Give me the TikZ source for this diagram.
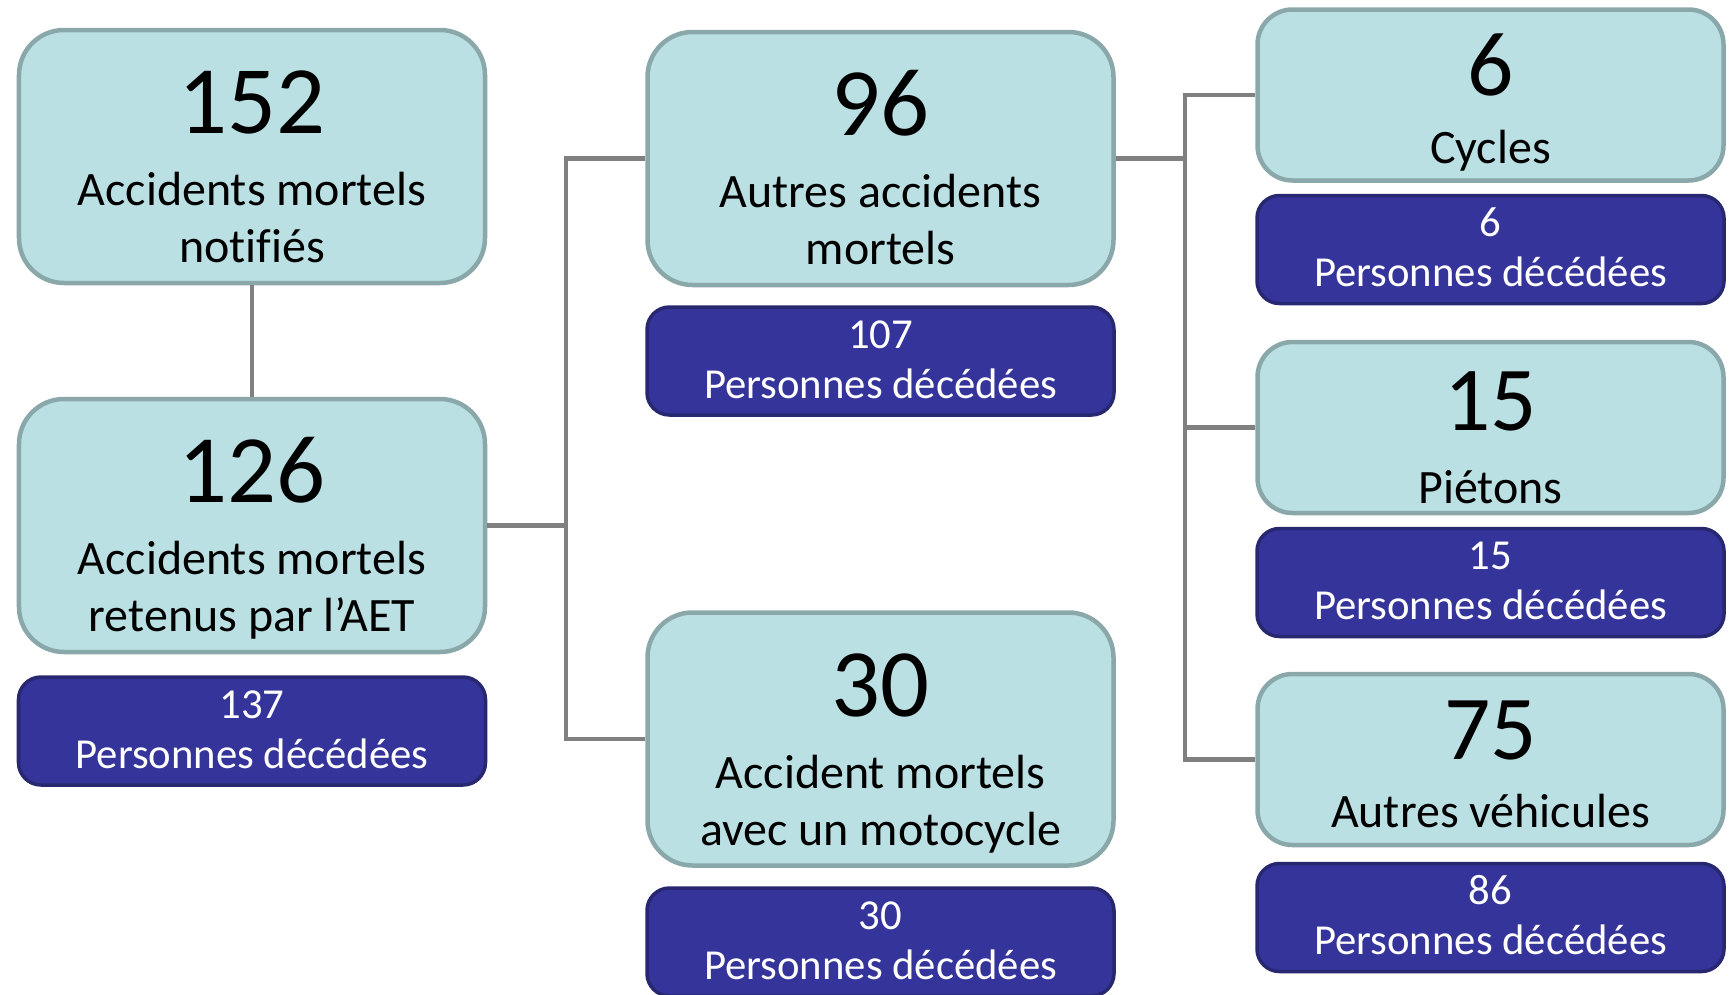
\documentclass[tikz,border=0pt]{standalone}
\usepackage{fontspec}
\setmainfont{Carlito}[Ligatures=NoCommon]
\usetikzlibrary{positioning}
\definecolor{lightbox}{RGB}{186,224,227}
\definecolor{lightedge}{RGB}{138,168,170}
\definecolor{darkbox}{RGB}{53,52,154}
\definecolor{darkedge}{RGB}{39,40,112}
\definecolor{linkgray}{RGB}{128,128,128}
\tikzset{%
  accident/.style={draw=lightedge, fill=lightbox, line width=0.09cm, rounded corners=0.9cm,
    minimum width=9.32cm, minimum height=5.06cm, inner sep=0pt},% light box, 2 lines
  category/.style={accident, rounded corners=0.7cm, minimum height=3.42cm},% light box, 1 line
  victims/.style={draw=darkedge, fill=darkbox, line width=0.07cm, rounded corners=0.45cm,
    minimum width=9.34cm, minimum height=2.16cm, inner sep=0pt},% persons killed
  bignum/.style={anchor=base, inner sep=0pt, font=\fontsize{55}{60}\selectfont},
  midnum/.style={bignum, font=\fontsize{52}{56}\selectfont},
  caption/.style={anchor=base, inner sep=0pt, font=\fontsize{27.3}{32}\selectfont},
  count/.style={anchor=base, inner sep=0pt, text=white, font=\fontsize{24.3}{28}\selectfont},
  branch/.style={draw=linkgray, line width=0.085cm}
}

\begin{document}
\begin{tikzpicture}
\useasboundingbox (0,0) rectangle (34.58,-19.88);

% left column
\node[accident] (b152) at (5.04,-3.13) {};
\node[bignum] (n152) at ([yshift=-2.12cm]b152.north) {152};
\node[caption] (t152a) at ([yshift=-3.56cm]b152.north) {Accidents mortels};
\node[caption] (t152b) at ([yshift=-4.70cm]b152.north) {notifiés};

\node[accident] (b126) at (5.04,-10.51) {};
\node[bignum] (n126) at ([yshift=-2.12cm]b126.north) {126};
\node[caption] (t126a) at ([yshift=-3.56cm]b126.north) {Accidents mortels};
\node[caption] (t126b) at ([yshift=-4.70cm]b126.north) {retenus par l’AET};

\node[victims] (d137) at (5.04,-14.62) {};
\node[count] (n137) at ([yshift=-0.86cm]d137.north) {137};
\node[count] (t137) at ([yshift=-1.86cm]d137.north) {Personnes décédées};

% middle column
\node[accident] (b96) at (17.61,-3.17) {};
\node[bignum] (n96) at ([yshift=-2.12cm]b96.north) {96};
\node[caption] (t96a) at ([yshift=-3.56cm]b96.north) {Autres accidents};
\node[caption] (t96b) at ([yshift=-4.70cm]b96.north) {mortels};

\node[victims] (d107) at (17.61,-7.22) {};
\node[count] (n107) at ([yshift=-0.86cm]d107.north) {107};
\node[count] (t107) at ([yshift=-1.86cm]d107.north) {Personnes décédées};

\node[accident] (b30) at (17.61,-14.78) {};
\node[bignum] (n30) at ([yshift=-2.12cm]b30.north) {30};
\node[caption] (t30a) at ([yshift=-3.56cm]b30.north) {Accident mortels};
\node[caption] (t30b) at ([yshift=-4.70cm]b30.north) {avec un motocycle};

\node[victims] (d30) at (17.61,-18.84) {};
\node[count] (n30d) at ([yshift=-0.86cm]d30.north) {30};
\node[count] (t30d) at ([yshift=-1.86cm]d30.north) {Personnes décédées};

% right column
\node[category] (b6) at (29.81,-1.90) {};
\node[midnum] (n6) at ([yshift=-1.76cm]b6.north) {6};
\node[caption] (t6) at ([yshift=-3.12cm]b6.north) {Cycles};

\node[victims] (d6) at (29.81,-4.99) {};
\node[count] (n6d) at ([yshift=-0.86cm]d6.north) {6};
\node[count] (t6d) at ([yshift=-1.86cm]d6.north) {Personnes décédées};

\node[category] (b15) at (29.81,-8.55) {};
\node[midnum] (n15) at ([yshift=-1.82cm]b15.north) {15};
\node[caption] (t15) at ([yshift=-3.28cm]b15.north) {Piétons};

\node[victims] (d15) at (29.81,-11.65) {};
\node[count] (n15d) at ([yshift=-0.86cm]d15.north) {15};
\node[count] (t15d) at ([yshift=-1.86cm]d15.north) {Personnes décédées};

\node[category] (b75) at (29.81,-15.19) {};
\node[midnum] (n75) at ([yshift=-1.76cm]b75.north) {75};
\node[caption] (t75) at ([yshift=-3.12cm]b75.north) {Autres véhicules};

\node[victims] (d86) at (29.81,-18.35) {};
\node[count] (n86) at ([yshift=-0.86cm]d86.north) {86};
\node[count] (t86) at ([yshift=-1.86cm]d86.north) {Personnes décédées};

% connectors
\draw[branch] (b152) -- (b126);
\draw[branch] (b126.east) -- ++(1.58,0) coordinate (fork1);
\draw[branch] (fork1) |- (b96.west);
\draw[branch] (fork1) |- (b30.west);
\draw[branch] (b96.east) -- ++(1.38,0) coordinate (fork2);
\draw[branch] (fork2) |- (b6.west);
\draw[branch] (fork2) |- (b15.west);
\draw[branch] (fork2) |- (b75.west);

\end{tikzpicture}
\end{document}
